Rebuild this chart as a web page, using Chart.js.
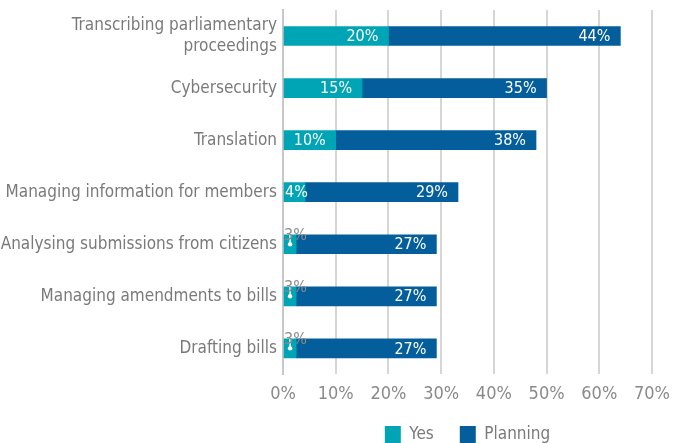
<!DOCTYPE html>
<html>
<head>
<meta charset="utf-8">
<script src="https://cdn.jsdelivr.net/npm/chart.js@4"></script>
<style>
  html, body { margin: 0; padding: 0; background: #fff; overflow: hidden; }
  #wrap { width: 689px; height: 467px; }
</style>
</head>
<body>
<div id="wrap"><canvas id="chart"></canvas></div>
<script>
// Data
const categories = [
  ['Transcribing parliamentary', 'proceedings'],
  'Cybersecurity',
  'Translation',
  'Managing information for members',
  'Analysing submissions from citizens',
  'Managing amendments to bills',
  'Drafting bills'
];
const yesValues = [20, 15, 10, 4.2, 2.5, 2.5, 2.5];
const planningValues = [44, 35, 38, 29, 26.6, 26.6, 26.6];
const xTicks = [0, 10, 20, 30, 40, 50, 60, 70];

const FONT = "'DejaVu Sans Condensed', 'Liberation Sans Narrow', sans-serif";
const TEAL = '#00A5B5';
const BLUE = '#035E9B';

// Bar value labels (white inside the bar end, or grey above when the bar is tiny)
const barLabels = {
  id: 'barLabels',
  afterDatasetsDraw(chart) {
    const ctx = chart.ctx;
    ctx.save();
    ctx.font = '16px ' + FONT;
    chart.data.datasets.forEach((ds, di) => {
      const meta = chart.getDatasetMeta(di);
      meta.data.forEach((bar, i) => {
        const label = Math.round(ds.data[i]) + '%';
        const w = bar.x - bar.base;
        const top = bar.y - bar.height / 2;
        if (w < 16) {
          // leader tick with dot
          const lx = bar.base + w / 2;
          ctx.strokeStyle = '#fff';
          ctx.fillStyle = '#fff';
          ctx.lineWidth = 1.5;
          ctx.beginPath();
          ctx.moveTo(lx, top);
          ctx.lineTo(lx, bar.y);
          ctx.stroke();
          ctx.beginPath();
          ctx.arc(lx, bar.y, 2.2, 0, Math.PI * 2);
          ctx.fill();
          ctx.fillStyle = '#8a8a8a';
          ctx.textAlign = 'left';
          ctx.textBaseline = 'alphabetic';
          ctx.fillText(label, bar.base, top + 5);
        } else {
          const tw = ctx.measureText(label).width;
          ctx.fillStyle = '#fff';
          ctx.textAlign = 'right';
          ctx.textBaseline = 'middle';
          ctx.fillText(label, Math.max(bar.x - 10, bar.base + tw + 1), bar.y + 1);
        }
      });
    });
    ctx.restore();
  }
};

// Center the legend under the plot area rather than the whole canvas
const legendPlace = {
  id: 'legendPlace',
  afterLayout(chart) {
    const lg = chart.legend;
    if (!lg) return;
    lg.left = chart.chartArea.left;
    lg.right = chart.chartArea.right;
    lg.width = lg.right - lg.left;
    lg.top = 400;
  }
};

new Chart(document.getElementById('chart'), {
  type: 'bar',
  data: {
    labels: categories,
    datasets: [
      { label: 'Yes', data: yesValues, backgroundColor: TEAL, barThickness: 19 },
      { label: 'Planning', data: planningValues, backgroundColor: BLUE, barThickness: 19 }
    ]
  },
  options: {
    indexAxis: 'y',
    responsive: true,
    maintainAspectRatio: false,
    animation: false,
    layout: { padding: { top: 10, right: 37, left: 0, bottom: 0 } },
    plugins: {
      legend: {
        position: 'bottom',
        labels: {
          color: '#7a7a7a',
          font: { family: FONT, size: 17 },
          boxWidth: 16,
          boxHeight: 17,
          padding: 26
        }
      },
      tooltip: { enabled: false }
    },
    scales: {
      x: {
        stacked: true,
        min: 0,
        max: 70,
        afterBuildTicks: (axis) => { axis.ticks = xTicks.map(v => ({ value: v })); },
        ticks: {
          color: '#8a8a8a',
          font: { family: FONT, size: 18 },
          padding: 9,
          callback: (v) => v + '%'
        },
        grid: { color: '#d6d6d6', lineWidth: 2, drawTicks: false },
        border: { display: false }
      },
      y: {
        stacked: true,
        afterFit: (scale) => {
          scale.width = 283;
          scale.paddingTop = 0;
          scale.paddingBottom = 0;
        },
        ticks: {
          color: '#7a7a7a',
          font: { family: FONT, size: 17, lineHeight: 1.2 },
          padding: 6
        },
        grid: { display: false, drawTicks: false },
        border: { color: '#c8c8c8', width: 2 }
      }
    }
  },
  plugins: [barLabels, legendPlace]
});
</script>
</body>
</html>
